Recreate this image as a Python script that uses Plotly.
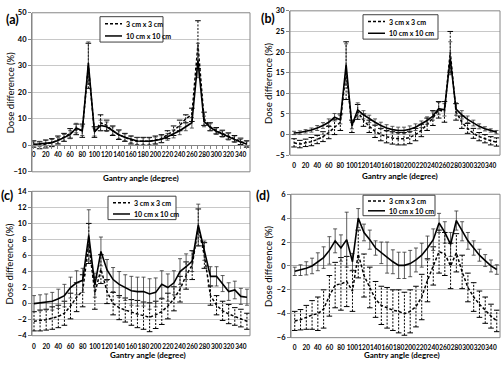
import plotly.graph_objects as go

angles = list(range(0, 360, 10))
x_tick_labels = [str(a) if a % 20 == 0 else "" for a in angles]
series_names = ["3 cm x 3 cm", "10 cm x 10 cm"]
panel_labels = ["(a)", "(b)", "(c)", "(d)"]
x_title = "Gantry angle (degree)"
y_title = "Dose difference (%)"

# Panel (a)
a_3cm = [0.5, 0.0, 0.5, 1.0, 2.0, 3.0, 4.5, 6.0, 5.5, 30.0, 5.0, 8.5, 7.5, 5.5, 4.0, 3.0, 2.0, 1.5,
         1.5, 1.5, 2.0, 2.5, 4.0, 5.5, 7.5, 10.0, 11.5, 38.0, 10.0, 7.0, 5.5, 4.5, 3.5, 2.5, 1.5, 0.5]
a_3cm_err = [1.2, 1.3, 1.5, 1.5, 1.5, 1.5, 1.8, 2.0, 2.5, 8.5, 2.0, 3.0, 2.0, 1.8, 1.8, 1.5, 1.5, 1.5,
             1.5, 1.5, 1.5, 1.5, 1.5, 1.8, 2.0, 1.5, 2.5, 9.0, 2.5, 1.5, 1.2, 1.2, 1.2, 1.2, 1.2, 1.2]
a_10cm = [0.3, 0.5, 0.7, 1.0, 1.8, 2.8, 4.0, 6.5, 5.5, 31.0, 5.0, 7.5, 7.0, 5.5, 4.0, 3.0, 2.2, 1.6,
          1.5, 1.5, 1.8, 2.3, 3.2, 4.3, 5.5, 7.0, 8.5, 32.0, 9.0, 6.8, 5.3, 4.3, 3.2, 2.3, 1.2, 0.5]
a_10cm_err = [1.0, 1.0, 1.2, 1.2, 1.2, 1.3, 1.5, 1.8, 1.8, 8.0, 1.5, 2.0, 1.8, 1.5, 1.5, 1.3, 1.3, 1.3,
              1.3, 1.3, 1.3, 1.3, 1.3, 1.5, 1.5, 1.5, 2.0, 6.5, 2.0, 1.3, 1.2, 1.2, 1.2, 1.2, 1.0, 1.0]

# Panel (b)
b_3cm = [-2.0, -2.3, -2.0, -1.7, -1.2, -0.5, 0.5, 1.8, 3.0, 15.5, 2.0, 5.5, 3.5, 2.0, 0.8, 0.0, -0.5, -0.8,
         -1.0, -1.0, -0.7, 0.0, 1.0, 2.5, 4.0, 6.0, 5.5, 20.0, 5.5, 3.0, 1.5, 0.3, -0.5, -1.0, -1.5, -1.8]
b_3cm_err = [1.0, 0.9, 0.9, 1.0, 1.0, 1.2, 1.5, 1.8, 2.0, 7.0, 1.5, 1.8, 1.5, 1.5, 1.5, 1.5, 1.5, 1.5,
             1.5, 1.5, 1.5, 1.5, 1.5, 1.5, 1.8, 2.0, 2.5, 5.0, 2.0, 1.5, 1.2, 1.2, 1.0, 1.0, 1.0, 1.0]
b_10cm = [0.4, 0.5, 0.8, 1.1, 1.6, 2.2, 3.0, 4.2, 3.6, 17.0, 2.2, 6.0, 4.8, 3.8, 3.0, 2.2, 1.6, 1.2,
          1.0, 1.0, 1.3, 1.8, 2.5, 3.4, 4.5, 6.3, 6.0, 18.5, 6.2, 4.8, 3.7, 2.8, 2.0, 1.4, 1.0, 0.6]
b_10cm_err = [0.4, 0.4, 0.4, 0.5, 0.6, 0.7, 0.8, 0.9, 1.0, 5.0, 0.8, 1.7, 1.0, 0.9, 0.8, 0.8, 0.8, 0.8,
              0.8, 0.8, 0.8, 0.8, 0.8, 0.9, 1.0, 1.5, 1.5, 4.0, 1.5, 1.0, 0.8, 0.7, 0.6, 0.5, 0.4, 0.4]

# Panel (c)
c_3cm = [-2.2, -2.1, -2.0, -1.8, -1.6, -1.2, -0.3, 0.8, 1.6, 7.5, 1.3, 4.3, 1.5, 0.0, -0.5, -0.8, -1.1, -1.3,
         -1.5, -1.7, -1.4, -1.0, -0.3, 0.6, 1.8, 3.5, 4.8, 9.5, 6.0, 1.0, -0.2, -0.9, -1.3, -1.6, -1.8, -2.2]
c_3cm_err = [1.2, 1.3, 1.3, 1.4, 1.4, 1.5, 1.6, 1.8, 2.0, 2.5, 2.0, 1.8, 1.5, 1.4, 1.5, 1.5, 1.6, 1.7,
             1.7, 1.8, 1.7, 1.6, 1.6, 1.5, 1.6, 1.7, 1.8, 2.3, 1.6, 1.2, 1.2, 1.2, 1.2, 1.1, 1.1, 1.0]
c_10cm = [0.0, 0.1, 0.2, 0.3, 0.6, 1.0, 2.0, 2.6, 2.9, 8.5, 2.3, 6.5, 4.2, 3.0, 2.4, 2.0, 1.6, 1.5,
          1.5, 1.2, 1.4, 2.4, 2.0, 2.6, 4.0, 4.6, 5.3, 9.8, 6.6, 3.4, 3.4, 2.5, 1.5, 1.7, 0.9, 0.8]
c_10cm_err = [1.0, 1.0, 1.0, 1.1, 1.2, 1.4, 1.3, 1.5, 1.5, 3.2, 1.5, 1.8, 1.3, 1.5, 1.6, 1.6, 1.8, 1.8,
              1.8, 1.9, 1.8, 1.7, 1.7, 1.5, 1.6, 1.6, 1.3, 2.6, 1.2, 1.2, 1.2, 1.0, 1.1, 1.1, 1.0, 1.0]

# Panel (d)
d_3cm = [-4.6, -4.5, -4.3, -4.1, -4.0, -3.6, -2.5, -1.6, -1.5, -1.3, -2.1, 1.0, -0.8, -1.8, -2.8, -3.3, -3.5, -3.7,
         -3.8, -4.0, -3.8, -3.4, -2.6, -1.2, 0.0, 1.2, 1.0, 0.0, 1.1, -0.5, -1.8, -2.6, -3.2, -3.7, -4.2, -4.6]
d_3cm_err = [0.8, 0.85, 1.0, 1.2, 1.4, 1.6, 1.7, 1.9, 2.2, 2.1, 1.7, 2.0, 1.8, 1.7, 1.5, 1.6, 1.7, 1.7,
             1.8, 1.8, 1.8, 1.7, 1.9, 1.8, 1.6, 1.8, 1.8, 1.9, 1.6, 1.4, 1.2, 1.2, 1.1, 1.1, 1.0, 0.9]
d_10cm = [-0.45, -0.35, -0.2, 0.0, 0.35, 0.7, 1.3, 2.1, 1.5, 2.2, 0.35, 4.0, 2.8, 2.2, 1.5, 1.1, 0.7, 0.35,
          0.05, 0.05, 0.2, 0.5, 0.9, 1.5, 2.2, 3.6, 2.8, 1.8, 3.8, 2.9, 2.1, 1.5, 0.9, 0.45, 0.0, -0.3]
d_10cm_err = [0.35, 0.45, 0.55, 0.65, 0.75, 0.9, 1.15, 1.0, 1.1, 2.3, 0.7, 0.8, 0.7, 0.8, 0.6, 0.9, 1.3, 1.0,
              1.1, 1.1, 1.1, 1.0, 1.0, 1.0, 0.9, 0.8, 0.9, 1.0, 0.8, 0.8, 0.7, 0.6, 0.5, 0.5, 0.5, 0.4]

panels = [
    (a_3cm, a_3cm_err, a_10cm, a_10cm_err),
    (b_3cm, b_3cm_err, b_10cm, b_10cm_err),
    (c_3cm, c_3cm_err, c_10cm, c_10cm_err),
    (d_3cm, d_3cm_err, d_10cm, d_10cm_err),
]
y_ranges = [(-10, 50, 10), (-5, 30, 5), (-4, 14, 2), (-6, 6, 2)]

W, H = 503, 369
# plot areas in pixels (left, right, top, bottom)
areas = [(32, 250, 9, 172), (290, 500, 7, 155), (32, 250, 192, 340), (291, 500, 195, 342)]
x_ranges = [(-2.6, 355.5), (-7, 356), (-3.3, 355), (-6.5, 355.6)]
legend_boxes = [(100, 13, 163, 39), (363, 11, 438, 36), (108, 197, 176, 221), (363, 196, 435, 217)]
label_pos = [(12, 16), (268, 15), (7, 196), (263, 196)]
ytitle_x = [10, 268, 10, 269]
xtitle_pos = [(141, 178), (400, 176), (148, 360), (402, 360)]

FONT = "Lato"
GRID = "#c8c8c8"
AXC = "#868686"


def px(x):
    return x / W


def py(y):
    return 1 - y / H


fig = go.Figure()
layout = dict(width=W, height=H, margin=dict(l=0, r=0, t=0, b=0, pad=0),
              paper_bgcolor="white", plot_bgcolor="white", showlegend=False,
              font=dict(family=FONT, color="black"))
annotations = []
shapes = []

for i, (s3, e3, s10, e10) in enumerate(panels):
    n = i + 1
    xa = "x" if n == 1 else f"x{n}"
    ya = "y" if n == 1 else f"y{n}"
    l, r, t, b = areas[i]
    xdom = [px(l), px(r)]
    ydom = [py(b), py(t)]
    y0, y1, dt = y_ranges[i]

    # dashed error bars for 3 cm series
    ex, ey, cx, cy = [], [], [], []
    for xv, yv, ev in zip(angles, s3, e3):
        ex += [xv, xv, None]
        ey += [yv - ev, yv + ev, None]
        cx += [xv, xv]
        cy += [yv - ev, yv + ev]
    fig.add_trace(go.Scatter(x=ex, y=ey, mode="lines", xaxis=xa, yaxis=ya,
                             line=dict(color="black", width=1, dash="2px,1.5px"),
                             hoverinfo="skip"))
    fig.add_trace(go.Scatter(x=cx, y=cy, mode="markers", xaxis=xa, yaxis=ya,
                             marker=dict(symbol="line-ew", size=4, line=dict(color="black", width=1)),
                             hoverinfo="skip"))
    fig.add_trace(go.Scatter(x=angles, y=s3, mode="lines", name=series_names[0],
                             xaxis=xa, yaxis=ya,
                             line=dict(color="black", width=1.5, dash="3px,2px")))
    fig.add_trace(go.Scatter(x=angles, y=s10, mode="lines", name=series_names[1],
                             xaxis=xa, yaxis=ya,
                             line=dict(color="black", width=1.6),
                             error_y=dict(type="data", array=e10, visible=True,
                                          color="#333333", thickness=0.8, width=2)))

    zero_frac = ydom[0] + (ydom[1] - ydom[0]) * (0 - y0) / (y1 - y0)
    xaxis = dict(domain=xdom, range=list(x_ranges[i]), tickvals=angles, ticktext=x_tick_labels,
                 tickangle=0, showgrid=False, zeroline=False,
                 tickfont=dict(family=FONT, size=6.5, weight="bold"),
                 ticks="outside", ticklen=3)
    if n == 1:
        xaxis.update(anchor="free", position=zero_frac, showline=True, linecolor=AXC,
                     tickcolor=AXC)
    else:
        xaxis.update(anchor=ya, showline=False, tickcolor="rgba(0,0,0,0)", ticklen=4)
    yaxis = dict(domain=ydom, range=[y0, y1], dtick=dt, anchor=xa, showgrid=True, gridcolor=GRID,
                 gridwidth=1, zeroline=True, zerolinecolor="#a6a6a6", zerolinewidth=1,
                 showline=True, linecolor=AXC, ticks="outside", ticklen=3, tickcolor=AXC,
                 tickfont=dict(family=FONT, size=7.5, weight="bold"))
    layout["xaxis" if n == 1 else f"xaxis{n}"] = xaxis
    layout["yaxis" if n == 1 else f"yaxis{n}"] = yaxis

    # plot-area frame
    shapes.append(dict(type="rect", xref=f"{xa} domain", yref=f"{ya} domain",
                       x0=0, x1=1, y0=0, y1=1, line=dict(color=AXC, width=1), layer="above"))

    # legend box
    bx0, by0, bx1, by1 = legend_boxes[i]
    shapes.append(dict(type="rect", xref="paper", yref="paper", x0=px(bx0), x1=px(bx1),
                       y0=py(by1), y1=py(by0), line=dict(color="#404040", width=1),
                       fillcolor="white", layer="above"))
    bh = by1 - by0
    for k, (name, dash) in enumerate(zip(series_names, ["3px,2px", "solid"])):
        ry = by0 + bh * (0.28 if k == 0 else 0.76)
        shapes.append(dict(type="line", xref="paper", yref="paper", x0=px(bx0 + 5), x1=px(bx0 + 22),
                           y0=py(ry), y1=py(ry), line=dict(color="black", width=1.5, dash=dash),
                           layer="above"))
        annotations.append(dict(text=name, x=px(bx0 + 24), y=py(ry), xref="paper", yref="paper",
                                xanchor="left", yanchor="middle", showarrow=False,
                                font=dict(family=FONT, size=7, weight="bold")))

    lx, ly = label_pos[i]
    annotations.append(dict(text=panel_labels[i], x=px(lx), y=py(ly), xref="paper", yref="paper",
                            xanchor="center", yanchor="middle", showarrow=False,
                            font=dict(family=FONT, size=12.5, weight="bold")))
    annotations.append(dict(text=y_title, x=px(ytitle_x[i]), y=(ydom[0] + ydom[1]) / 2,
                            xref="paper", yref="paper", xanchor="center", yanchor="middle",
                            showarrow=False, textangle=-90,
                            font=dict(family=FONT, size=9.5)))
    tx, ty = xtitle_pos[i]
    annotations.append(dict(text=x_title, x=px(tx), y=py(ty), xref="paper", yref="paper",
                            xanchor="center", yanchor="middle", showarrow=False,
                            font=dict(family=FONT, size=8, weight="bold")))

layout["annotations"] = annotations
layout["shapes"] = shapes
fig.update_layout(**layout)
fig.write_html("out.html", config={"displayModeBar": False},
               post_script="document.body.style.margin='0';document.body.style.overflow='hidden';")
